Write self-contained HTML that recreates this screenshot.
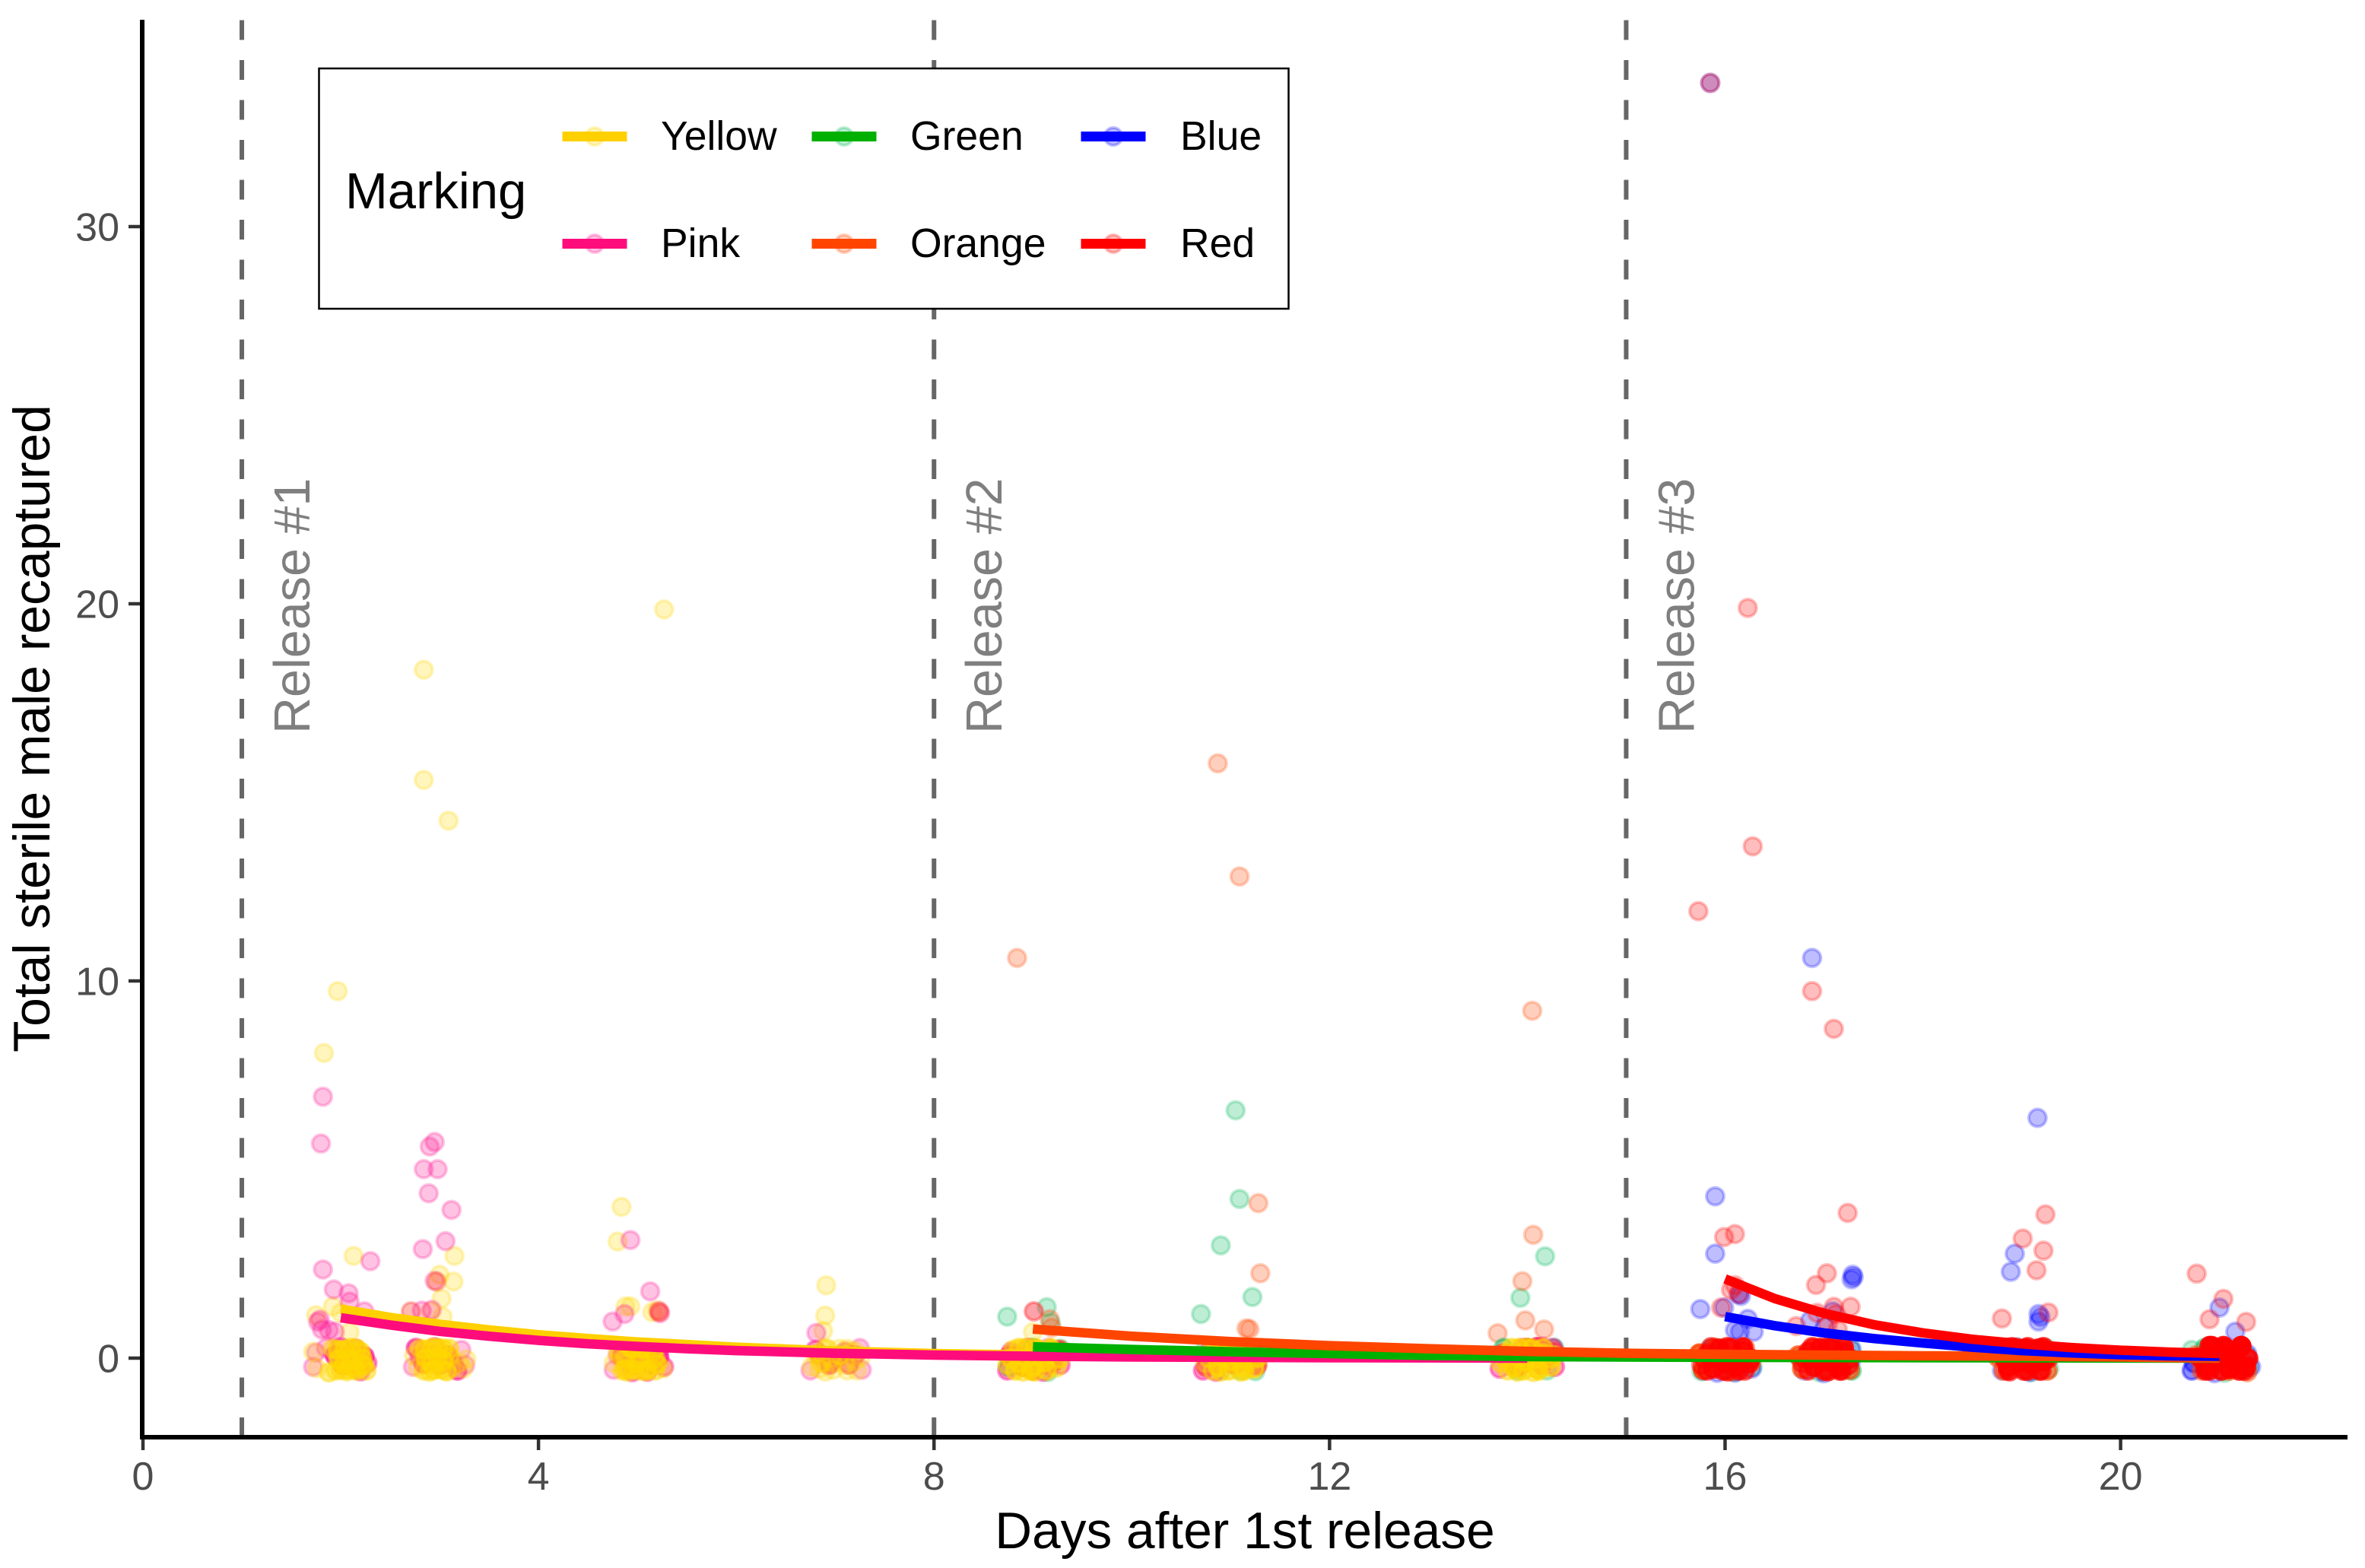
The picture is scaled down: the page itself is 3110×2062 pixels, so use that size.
<!DOCTYPE html>
<html lang="en">
<head>
<meta charset="utf-8">
<title>Total sterile male recaptured</title>
<style>
html,body{margin:0;padding:0;background:#fff;}
svg{display:block;font-family:"Liberation Sans",Arial,sans-serif;}
</style>
</head>
<body>
<svg id="chart" xmlns="http://www.w3.org/2000/svg" width="3110" height="2062" viewBox="0 0 3110 2062">
  <rect x="0" y="0" width="3110" height="2062" fill="#fff"/>
  <g id="vlines"></g>
  <g id="points"></g>
  <g id="lines"></g>
  <g id="axes"></g>
  <text x="1637" y="2036" font-size="67.6" text-anchor="middle" fill="#000">Days after 1st release</text>
  <text x="65" y="958" font-size="67.8" text-anchor="middle" fill="#000" transform="rotate(-90 65 958)">Total sterile male recaptured</text>
  <g>
    <rect x="419.5" y="90" width="1275" height="316" fill="#fff" stroke="#000" stroke-width="2.5"/>
    <text x="454" y="274" font-size="67" fill="#000">Marking</text>
    <g id="legend-keys"></g>
  </g>
</svg>
<script>
// Axis ticks and reference lines
const xTicks = [0, 4, 8, 12, 16, 20];
const yTicks = [0, 10, 20, 30];
const releaseDays = [1, 8, 15];
const releaseLabels = ["Release #1", "Release #2", "Release #3"];

// Legend
const legendNames = ["Yellow", "Green", "Blue", "Pink", "Orange", "Red"];

// Scattered recaptures (day with jitter, count with jitter)
const yellowX = [1.97,1.83,2.84,2.84,3.09,5.27,4.84,4.80,2.13,3.15,3.14,3.0,3.02,3.03,6.91,6.9,6.88,4.88,4.93,2.71,2.91,1.75,1.92,2.09,2.0,9.0,5.15,5.2];
const yellowY = [9.76,8.12,18.28,15.36,14.28,19.88,4.04,3.12,2.74,2.74,2.06,2.24,1.61,1.13,1.96,1.16,0.75,1.4,1.4,1.27,1.27,1.17,1.4,0.72,1.23,0.72,1.25,1.3];
const greenX = [11.05,11.09,10.9,11.22,10.7,14.18,13.93,8.74,9.14,9.18];
const greenY = [6.6,4.25,3.02,1.65,1.2,2.73,1.63,1.13,1.38,0.97];
const blueX = [15.85,15.9,15.9,15.75,16.88,17.3,17.28,17.29,19.16,18.93,18.89,19.19,19.17,19.17,21.0,21.16,15.99,16.14,16.16,16.23,16.1,16.15,16.29,16.86,17.09,17.01];
const blueY = [33.84,4.32,2.8,1.33,10.64,2.18,2.12,2.24,6.4,2.8,2.32,1.12,1.0,1.2,1.37,0.73,1.37,1.73,1.68,1.07,0.77,0.73,0.73,1.03,1.27,0.87];
const pinkX = [1.82,1.80,1.82,1.93,2.08,2.3,1.77,1.81,1.88,1.94,1.79,2.09,2.24,2.95,2.9,2.84,2.98,2.89,3.12,3.06,2.83,2.95,2.71,2.82,2.92,4.75,4.87,4.93,5.13,5.22,5.23,6.81,9.01];
const pinkY = [6.96,5.72,2.38,1.85,1.75,2.6,0.99,0.79,0.77,0.73,1.05,1.53,1.27,5.76,5.64,5.04,5.04,4.4,3.96,3.13,2.92,2.08,1.27,1.29,1.31,1.0,1.2,3.16,1.8,1.28,1.22,0.7,1.27];
const orangeX = [8.84,10.87,11.09,14.05,11.28,11.3,14.06,13.95,13.98,14.17,13.7,11.16,11.19,9.17,9.19,9.01,5.22,2.97];
const orangeY = [10.64,15.8,12.8,9.24,4.14,2.28,3.3,2.07,1.03,0.79,0.69,0.82,0.8,1.06,0.84,1.27,1.25,2.06];
const redX = [15.85,15.73,16.23,16.28,16.88,17.1,17.24,15.99,16.1,16.06,16.1,16.14,15.96,16.92,17.03,17.27,17.1,16.93,16.72,17.14,17.04,17.12,19.24,19.01,19.22,19.15,19.27,18.8,20.77,21.04,20.9,21.27];
const redY = [33.84,11.88,19.92,13.6,9.76,8.76,3.88,3.24,3.32,1.84,1.96,1.73,1.37,1.97,2.28,1.39,1.39,1.23,0.88,0.79,0.93,1.2,3.84,3.2,2.88,2.36,1.24,1.08,2.27,1.6,1.06,0.99];

// Zero-catch traps piled near y = 0: position plus number of overlapping traps
const greenCoreX = [8.75,9.0,9.28,9.15,8.85, 10.74,10.95,11.25,11.1,10.9, 13.76,14.0,14.27,14.2,13.9, 15.76,15.95,16.28,16.1,15.85, 16.75,16.95,17.28,17.15,17.27, 18.78,18.95,19.28,19.1,19.25, 20.72,20.85,21.05,21.28,21.3];
const greenCoreY = [-0.2,0.3,0.28,-0.34,0.1, 0.25,0.3,-0.32,-0.3,-0.3, 0.3,0.3,0.3,-0.3,-0.3, -0.32,0.3,-0.2,-0.34,0.3, 0.05,-0.34,-0.3,0.3,0.3, 0.25,0.3,-0.25,-0.34,0.3, 0.25,0.3,-0.36,0.1,-0.2];
const greenCoreN = [2,2,1,1,1, 1,2,1,1,1, 2,2,2,1,1, 1,1,1,1,1, 1,1,2,1,1, 1,1,1,1,1, 1,2,1,1,1];

const blueCoreX = [15.78,15.92,16.27,16.1,15.85, 16.8,17.0,17.28,17.1,17.28, 18.8,18.95,19.2,19.08,18.9, 20.72,20.95,21.28,21.32,20.74];
const blueCoreY = [-0.3,-0.36,-0.25,-0.35,0.25, -0.3,-0.37,0.25,0.3,0.0, -0.3,0.32,0.3,-0.34,0.3, -0.3,-0.37,0.15,-0.2,-0.1];
const blueCoreN = [1,1,1,1,1, 1,1,1,1,1, 1,1,1,1,1, 2,1,1,1,2];

const orangeCoreX = [8.76,8.9,9.05,9.2,9.27,9.0, 10.75,10.9,11.0,11.15,11.27,11.05, 13.75,13.9,14.0,14.15,14.27,14.1, 15.74,15.78,15.9,16.05,16.2,16.26, 16.74,16.78,16.9,17.05,17.2,17.26, 18.76,18.82,18.95,19.05,19.2,19.26, 20.76,20.82,20.95,21.1,21.22,21.28];
const orangeCoreY = [0.1,-0.2,0.2,-0.1,0.25,-0.3, -0.2,0.2,-0.1,0.2,-0.15,0.3, 0.15,-0.2,0.3,-0.1,0.2,0.32, 0.15,-0.28,0.3,-0.32,0.3,-0.1, 0.1,-0.25,0.3,-0.3,0.3,-0.28, 0.05,-0.3,0.3,-0.3,0.3,-0.3, 0.1,-0.3,0.3,-0.3,0.3,-0.34];
const orangeCoreN = [3,4,4,4,3,3, 3,4,4,4,3,3, 3,4,4,4,3,4, 6,6,4,3,3,3, 4,4,3,3,3,3, 3,3,3,3,3,3, 2,2,3,3,3,2];

const redCoreX = [15.76,15.82,15.88,15.94,16.0,16.06,16.12,16.18,16.24,15.86,16.02,16.2, 16.78,16.84,16.9,16.96,17.02,17.08,17.14,17.2,17.25,16.86,17.04,17.18, 18.8,18.86,18.92,18.98,19.04,19.1,19.16,19.22,19.26,18.88,19.06,19.2, 20.8,20.86,20.92,20.98,21.04,21.1,21.16,21.22,21.27,20.9,21.08,21.25];
const redCoreY = [-0.15,0.15,-0.25,0.28,-0.1,0.3,-0.2,0.22,-0.1,0.05,-0.32,-0.3, -0.1,0.2,-0.2,0.3,-0.05,0.3,-0.22,0.2,-0.15,0.0,-0.32,-0.3, 0.1,-0.2,0.28,-0.08,0.28,-0.15,0.28,-0.05,0.1,-0.32,-0.3,-0.3, 0.05,-0.2,0.35,-0.05,0.35,-0.25,0.1,0.35,-0.2,-0.3,0.05,-0.3];
const redCoreN = [2,3,4,5,6,5,6,5,4,5,3,3, 2,4,5,6,6,6,6,5,3,5,3,3, 3,5,5,6,6,6,6,5,3,3,3,3, 3,5,8,8,8,7,8,8,6,4,8,4];

const redFillX = [15.78,15.86,15.94,16.02,16.1,16.18,16.26,15.82,15.98,16.14, 16.8,16.88,16.96,17.04,17.12,17.2,17.26,16.84,17.0,17.16, 18.82,18.9,18.98,19.06,19.14,19.22,19.27,18.86,19.02,19.18, 20.82,20.9,20.98,21.06,21.14,21.22,21.29,20.86,21.02,21.2];
const redFillY = [0.02,0.32,0.02,0.32,0.02,0.32,0.02,-0.3,-0.3,-0.3, 0.02,0.32,0.02,0.32,0.02,0.32,0.02,-0.3,-0.3,-0.3, 0.02,0.32,0.02,0.32,0.02,0.32,0.02,-0.3,-0.3,-0.3, 0.02,0.35,0.02,0.3,0.02,0.35,0.02,-0.3,-0.3,-0.3];
const redFillN = [2,3,4,5,5,5,4,3,4,4, 3,4,5,5,5,5,3,3,4,4, 3,4,5,5,5,5,3,3,4,4, 5,7,8,8,8,8,7,5,6,6];

const pinkCoreX = [1.72,1.75,1.85,2.0,2.15,2.27,2.2, 2.73,2.76,2.8,2.95,3.22,3.26,3.18, 4.76,4.8,4.95,5.1,5.22,5.27,5.0, 6.75,6.8,6.95,7.1,7.25,7.27,7.0, 8.74,8.78,8.95,9.1,9.26,9.28,9.15, 10.72,10.76,10.95,11.1,11.26,11.2,10.85, 13.72,13.76,13.95,14.1,14.26,14.28,14.15];
const pinkCoreY = [-0.2,0.18,0.3,0.32,0.28,-0.1,-0.32, -0.2,0.3,0.05,0.32,0.25,-0.15,-0.3, -0.28,0.1,-0.34,-0.33,0.25,-0.2,0.3, -0.3,0.25,-0.1,0.2,0.3,-0.28,0.0, -0.3,0.2,0.3,-0.33,0.22,-0.15,0.3, -0.3,0.15,0.32,0.3,-0.2,0.25,-0.33, -0.25,0.15,0.3,0.32,0.3,-0.2,0.33];
const pinkCoreN = [1,1,1,2,2,2,2, 1,3,2,2,1,1,3, 1,1,2,2,2,2,1, 1,2,2,2,1,1,1, 2,2,2,2,2,2,1, 2,2,2,1,1,1,2, 2,2,2,2,2,2,2];

const pinkFillX = [1.94,2.02,2.1,2.18,2.24, 2.84,2.92,3.0,3.08,3.14, 4.84,4.94,5.04,5.14,5.22, 6.84,6.94,7.04,7.14,7.2, 8.84,8.94,9.04,9.14,9.22, 10.84,10.94,11.04,11.14,11.22, 13.84,13.94,14.04,14.14,14.22];
const pinkFillY = [0.1,-0.15,0.12,-0.14,0.08, -0.12,0.12,-0.15,0.1,-0.12, 0.08,-0.15,0.12,-0.14,0.06, 0.12,-0.15,0.08,-0.14,0.1, 0.1,-0.14,0.12,-0.15,0.08, -0.12,0.12,-0.14,0.1,-0.15, 0.1,-0.14,0.12,-0.15,0.08];
const pinkFillN = [4,4,4,4,4, 4,4,4,4,3, 4,4,4,4,4, 3,3,3,3,3, 4,4,4,4,4, 4,4,4,4,4, 4,4,4,4,4];

const yellowCoreX = [1.72,1.76,1.88,1.97,2.03,2.1,2.14,2.2,2.22,2.26,1.95,2.06, 2.74,2.78,2.85,2.92,2.98,3.04,3.1,3.2,3.24,3.27,2.9,3.07, 4.76,4.82,4.88,4.93,5.0,5.05,5.1,5.16,5.2,5.26,4.9,5.02, 6.76,6.82,6.86,6.92,6.98,7.05,7.1,7.16,7.22,7.26,6.9,7.04, 8.74,8.8,8.86,8.93,9.0,9.06,9.12,9.18,9.24,9.28,8.9,9.02, 10.74,10.8,10.87,10.93,10.99,11.05,11.12,11.18,11.24,11.28,10.9,11.1, 13.73,13.79,13.86,13.92,13.98,14.05,14.1,14.17,14.24,14.28,13.9,14.06];
const yellowCoreY = [0.2,-0.24,-0.35,0.25,-0.12,0.3,-0.22,0.2,-0.14,-0.3,-0.3,-0.32, 0.1,-0.22,0.25,-0.1,0.3,-0.05,0.28,-0.1,-0.25,0.0,-0.33,-0.32, -0.1,0.12,-0.25,0.3,-0.1,0.28,-0.28,0.2,-0.12,-0.25,-0.33,-0.3, -0.2,0.15,-0.1,0.28,-0.28,0.1,-0.15,0.2,-0.3,0.05,-0.33,0.28, -0.15,0.25,-0.1,0.3,-0.2,0.25,-0.08,0.25,-0.22,0.0,-0.33,-0.33, -0.1,0.2,-0.2,0.28,-0.05,0.3,-0.2,0.2,-0.25,0.05,-0.33,-0.33, -0.1,0.18,-0.22,0.3,-0.05,0.28,-0.25,0.15,-0.2,0.1,-0.33,-0.34];
const yellowCoreN = [1,1,2,3,3,3,3,3,3,2,2,2, 1,1,3,3,3,3,2,1,1,1,2,3, 1,2,3,3,3,3,3,3,3,1,2,2, 1,1,2,2,1,1,1,1,1,1,1,1, 2,2,3,3,3,3,3,3,2,1,2,2, 1,2,3,3,3,3,3,3,3,2,2,2, 2,2,3,3,3,3,3,3,3,2,2,2];

const yellowFillX = [1.92,1.98,2.04,2.1,2.16,2.22,2.0,2.08,2.16,2.24, 2.8,2.86,2.92,2.98,3.04,3.1,2.84,2.94,3.02,3.12, 4.8,4.88,4.95,5.02,5.1,5.18,4.85,4.96,5.08,5.18, 6.8,6.88,6.96,7.04,7.12,7.2,6.84,6.98,7.12,7.2, 8.78,8.86,8.94,9.02,9.1,9.18,9.26,8.82,8.98,9.14, 10.78,10.86,10.94,11.02,11.1,11.18,11.26,10.82,10.98,11.14, 13.76,13.84,13.92,14.0,14.08,14.16,14.24,13.8,13.96,14.12];
const yellowFillY = [0.28,0.0,0.25,-0.02,0.28,0.02,-0.28,-0.28,-0.3,-0.18, 0.28,0.02,0.3,0.05,0.28,0.08,-0.3,-0.28,-0.28,-0.25, 0.25,0.02,0.28,0.02,0.28,0.02,-0.3,-0.28,-0.32,-0.3, 0.1,0.28,0.02,0.1,0.28,-0.05,-0.25,-0.1,-0.3,0.22, 0.02,0.3,0.02,0.3,0.02,0.3,0.02,-0.3,-0.3,-0.3, 0.02,0.3,0.02,0.3,0.02,0.3,0.02,-0.3,-0.3,-0.3, 0.02,0.3,0.02,0.3,0.02,0.3,0.02,-0.3,-0.3,-0.3];
const yellowFillN = [2,3,3,3,3,3,2,2,3,2, 2,3,3,3,3,2,2,3,2,1, 1,2,3,3,2,2,2,2,2,2, 1,1,1,1,1,1,1,1,1,1, 3,3,3,3,3,3,2,3,3,3, 2,3,3,3,3,3,2,2,3,3, 2,3,3,3,3,3,3,2,3,3];

// Fitted decay curves
const yellowLineX = [2,2.5,3,3.5,4,4.5,5,5.5,6,7,8,9,10,12,14];
const yellowLineY = [1.3,1.08,0.9,0.75,0.62,0.52,0.43,0.36,0.29,0.19,0.12,0.08,0.05,0.02,0.01];
const pinkLineX = [2,2.5,3,3.5,4,4.5,5,5.5,6,7,8,9,10,12,14];
const pinkLineY = [1.07,0.88,0.71,0.58,0.47,0.38,0.31,0.25,0.2,0.13,0.08,0.05,0.03,0.01,0];
const greenLineX = [9,10,11,12,13,14,16,18,21];
const greenLineY = [0.3,0.23,0.17,0.12,0.07,0.04,0.02,0.01,0];
const orangeLineX = [9,10,11,12,13,14,15,16,17,18,19,20,21];
const orangeLineY = [0.77,0.58,0.44,0.33,0.25,0.18,0.13,0.1,0.08,0.06,0.05,0.03,0];
const blueLineX = [16,16.5,17,17.5,18,18.5,19,19.5,20,20.5,21];
const blueLineY = [1.1,0.86,0.67,0.52,0.4,0.29,0.2,0.14,0.09,0.06,0.05];
const redLineX = [16,16.5,17,17.5,18,18.5,19,19.5,20,20.5,21];
const redLineY = [2.1,1.58,1.19,0.89,0.67,0.5,0.38,0.28,0.21,0.16,0.12];

const NS = "http://www.w3.org/2000/svg";
const sx = function (v) { return 188 + 130.03 * v; };
const sy = function (v) { return 1786 - 49.6 * v; };
const COLORS = { yellow: "#FFD700", green: "#00B85A", blue: "#0000FF", pink: "#FF1493", orange: "#FF4500", red: "#FF0000" };
const LINE_COLORS = { yellow: "#FFD000", green: "#00B000", blue: "#0000FF", pink: "#FF0C7C", orange: "#FF4500", red: "#FF0000" };

function drawPoints(parent, series, xs, ys, ns) {
  for (let i = 0; i < xs.length; i++) {
    const n = ns ? ns[i] : 1;
    const c = document.createElementNS(NS, "circle");
    
    
    c.setAttribute("cx", sx(xs[i]));
    c.setAttribute("cy", sy(ys[i]) + 1.5);
    c.setAttribute("r", 11.5);
    c.setAttribute("fill", COLORS[series]);
    c.setAttribute("stroke", COLORS[series]);
    c.setAttribute("stroke-width", 4);
    c.setAttribute("fill-opacity", (1 - Math.pow(0.74, n)).toFixed(3));
    c.setAttribute("stroke-opacity", (1 - Math.pow(0.76, n)).toFixed(3));
    parent.appendChild(c);
  }
}

function drawLine(parent, series, xs, ys) {
  const p = document.createElementNS(NS, "polyline");
  
  
  p.setAttribute("points", xs.map(function (x, i) { return sx(x).toFixed(1) + "," + sy(ys[i]).toFixed(1); }).join(" "));
  p.setAttribute("fill", "none");
  p.setAttribute("stroke", LINE_COLORS[series]);
  p.setAttribute("stroke-width", 12.5);
  p.setAttribute("stroke-linejoin", "round");
  parent.appendChild(p);
}

// Release reference lines and labels
const vl = document.getElementById("vlines");
releaseDays.forEach(function (d, i) {
  const l = document.createElementNS(NS, "line");
  
  
  l.setAttribute("x1", sx(d));
  l.setAttribute("x2", sx(d));
  l.setAttribute("y1", 1890);
  l.setAttribute("y2", 26);
  l.setAttribute("stroke", "#666");
  l.setAttribute("stroke-width", 6);
  l.setAttribute("stroke-dasharray", "26 26.5");
  vl.appendChild(l);
  const t = document.createElementNS(NS, "text");
  
  
  const bx = sx(d) + 89;
  t.setAttribute("x", bx);
  t.setAttribute("y", 965);
  t.setAttribute("font-size", 66.5);
  t.setAttribute("fill", "#7F7F7F");
  t.setAttribute("transform", "rotate(-90 " + bx + " 965)");
  t.textContent = releaseLabels[i];
  vl.appendChild(t);
});

// Points
const pts = document.getElementById("points");
drawPoints(pts, "yellow", yellowX, yellowY);
drawPoints(pts, "green", greenX, greenY);
drawPoints(pts, "blue", blueX, blueY);
drawPoints(pts, "pink", pinkX, pinkY);
drawPoints(pts, "orange", orangeX, orangeY);
drawPoints(pts, "red", redX, redY);
drawPoints(pts, "green", greenCoreX, greenCoreY, greenCoreN);
drawPoints(pts, "blue", blueCoreX, blueCoreY, blueCoreN);
drawPoints(pts, "orange", orangeCoreX, orangeCoreY, orangeCoreN);
drawPoints(pts, "red", redCoreX, redCoreY, redCoreN);
drawPoints(pts, "red", redFillX, redFillY, redFillN);
drawPoints(pts, "pink", pinkCoreX, pinkCoreY, pinkCoreN);
drawPoints(pts, "pink", pinkFillX, pinkFillY, pinkFillN);
drawPoints(pts, "yellow", yellowCoreX, yellowCoreY, yellowCoreN);
drawPoints(pts, "yellow", yellowFillX, yellowFillY, yellowFillN);

// Trend lines
const ln = document.getElementById("lines");
drawLine(ln, "yellow", yellowLineX, yellowLineY);
drawLine(ln, "pink", pinkLineX, pinkLineY);
drawLine(ln, "green", greenLineX, greenLineY);
drawLine(ln, "orange", orangeLineX, orangeLineY);
drawLine(ln, "blue", blueLineX, blueLineY);
drawLine(ln, "red", redLineX, redLineY);

// Axes
const ax = document.getElementById("axes");
const yAxis = document.createElementNS(NS, "line");


yAxis.setAttribute("x1", 187);
yAxis.setAttribute("x2", 187);
yAxis.setAttribute("y1", 26);
yAxis.setAttribute("y2", 1893);
yAxis.setAttribute("stroke", "#000");
yAxis.setAttribute("stroke-width", 6);
ax.appendChild(yAxis);
const xAxis = document.createElementNS(NS, "line");


xAxis.setAttribute("x1", 184);
xAxis.setAttribute("x2", 3087);
xAxis.setAttribute("y1", 1890);
xAxis.setAttribute("y2", 1890);
xAxis.setAttribute("stroke", "#000");
xAxis.setAttribute("stroke-width", 6);
ax.appendChild(xAxis);

xTicks.forEach(function (v) {
  const k = document.createElementNS(NS, "line");
  
  
  k.setAttribute("x1", sx(v));
  k.setAttribute("x2", sx(v));
  k.setAttribute("y1", 1893);
  k.setAttribute("y2", 1907);
  k.setAttribute("stroke", "#333");
  k.setAttribute("stroke-width", 4.5);
  ax.appendChild(k);
  const t = document.createElementNS(NS, "text");
  
  
  t.setAttribute("x", sx(v));
  t.setAttribute("y", 1959);
  t.setAttribute("font-size", 52);
  t.setAttribute("fill", "#4D4D4D");
  t.setAttribute("text-anchor", "middle");
  t.textContent = v;
  ax.appendChild(t);
});
yTicks.forEach(function (v) {
  const k = document.createElementNS(NS, "line");
  
  
  k.setAttribute("x1", 169);
  k.setAttribute("x2", 184);
  k.setAttribute("y1", sy(v));
  k.setAttribute("y2", sy(v));
  k.setAttribute("stroke", "#333");
  k.setAttribute("stroke-width", 4.5);
  ax.appendChild(k);
  const t = document.createElementNS(NS, "text");
  
  
  t.setAttribute("x", 157);
  t.setAttribute("y", sy(v) + 18.5);
  t.setAttribute("font-size", 52);
  t.setAttribute("fill", "#4D4D4D");
  t.setAttribute("text-anchor", "end");
  t.textContent = v;
  ax.appendChild(t);
});

// Legend keys
const lk = document.getElementById("legend-keys");
const keyCols = [782, 1110, 1464];
const labelCols = [869, 1197, 1552];
const keyRows = [179.5, 320.5];
const baseRows = [197, 338];
legendNames.forEach(function (name, i) {
  const col = i % 3;
  const row = Math.floor(i / 3);
  const series = name.toLowerCase();
  const c = document.createElementNS(NS, "circle");
  
  
  c.setAttribute("cx", keyCols[col]);
  c.setAttribute("cy", keyRows[row]);
  c.setAttribute("r", 11.5);
  c.setAttribute("fill", COLORS[series]);
  c.setAttribute("stroke", COLORS[series]);
  c.setAttribute("stroke-width", 4);
  c.setAttribute("fill-opacity", 0.26);
  c.setAttribute("stroke-opacity", 0.26);
  lk.appendChild(c);
  const l = document.createElementNS(NS, "line");
  
  
  l.setAttribute("x1", keyCols[col] - 42.5);
  l.setAttribute("x2", keyCols[col] + 42.5);
  l.setAttribute("y1", keyRows[row]);
  l.setAttribute("y2", keyRows[row]);
  l.setAttribute("stroke", LINE_COLORS[series]);
  l.setAttribute("stroke-width", 13);
  lk.appendChild(l);
  const t = document.createElementNS(NS, "text");
  
  
  t.setAttribute("x", labelCols[col]);
  t.setAttribute("y", baseRows[row]);
  t.setAttribute("font-size", 53.5);
  t.setAttribute("fill", "#000");
  t.textContent = name;
  lk.appendChild(t);
});
</script>
</body>
</html>
